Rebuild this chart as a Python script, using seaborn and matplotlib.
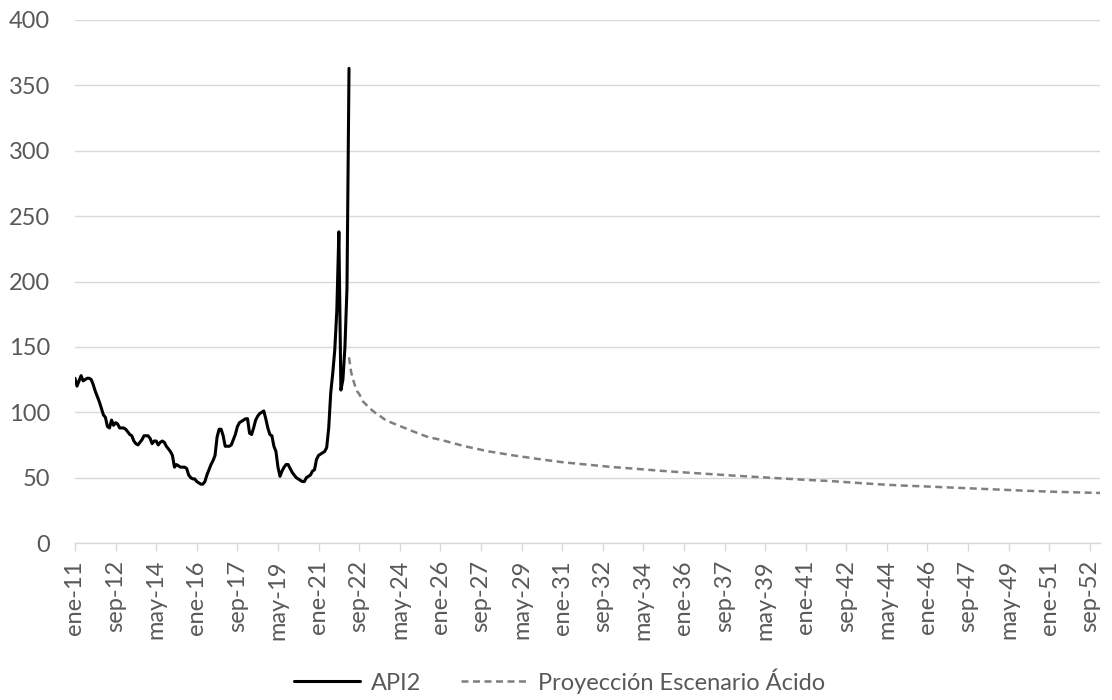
import numpy as np
import pandas as pd
import matplotlib
matplotlib.use("Agg")
import matplotlib.pyplot as plt
import seaborn as sns

# Monthly API2 coal price, January 2011 onwards (USD/t)
api2_start = "2011-01"
api2_values = [
    126, 120, 124, 128, 124, 125, 126, 126, 125, 121, 116, 112,   # 2011
    108, 103, 98, 96, 89, 88, 94, 90, 92, 91, 88, 88,              # 2012
    88, 87, 85, 83, 82, 78, 76, 75, 77, 79, 82, 82,                # 2013
    82, 80, 76, 78, 78, 75, 77, 78, 77, 74, 72, 70,                # 2014
    67, 58, 60, 59, 58, 58, 58, 57, 52, 50, 49, 49,                # 2015
    47, 46, 45, 45, 47, 52, 56, 60, 63, 67, 81, 87,                # 2016
    87, 82, 74, 74, 74, 75, 79, 83, 89, 92, 93, 94,                # 2017
    95, 95, 84, 83, 88, 94, 97, 99, 100, 101, 95, 88,              # 2018
    83, 82, 74, 70, 58, 51, 55, 58, 60, 60, 57, 54,                # 2019
    52, 50, 49, 48, 47, 47, 50, 51, 52, 55, 56, 64,                # 2020
    67, 68, 69, 70, 73, 88, 115, 130, 148, 178, 238, 117,          # 2021
    125, 150, 195, 363,                                            # 2022
]

# Acid-scenario projection
proj_dates = [
    "2022-04", "2022-05", "2022-06", "2022-07", "2022-08", "2022-09",
    "2022-11", "2023-01", "2023-03", "2023-05", "2023-07", "2023-10",
    "2024-01", "2024-05", "2024-09", "2025-01", "2025-07", "2026-01",
    "2026-07", "2027-01", "2027-07", "2028-01", "2029-01", "2030-01",
    "2031-01", "2032-01", "2033-01", "2034-01", "2035-01", "2036-01",
    "2037-01", "2038-01", "2039-01", "2040-01", "2041-01", "2042-01",
    "2043-01", "2044-01", "2045-01", "2046-01", "2047-01", "2048-01",
    "2049-01", "2050-01", "2051-01", "2052-01", "2053-01", "2053-02",
]
proj_values = [
    142, 131, 125, 120, 116, 114,
    108, 105, 102, 99.5, 97.5, 94,
    92, 89.5, 87, 84.5, 81, 79,
    76.5, 74, 72, 70, 67, 64.3,
    61.8, 60, 58.2, 56.8, 55.3, 54,
    52.8, 51.6, 50.5, 49.4, 48.3, 47.4,
    46.1, 44.9, 43.9, 43.2, 42.4, 41.6,
    40.8, 40.0, 39.3, 38.8, 38.3, 38.2,
]

tick_labels = [
    "ene-11", "sep-12", "may-14", "ene-16", "sep-17", "may-19", "ene-21",
    "sep-22", "may-24", "ene-26", "sep-27", "may-29", "ene-31", "sep-32",
    "may-34", "ene-36", "sep-37", "may-39", "ene-41", "sep-42", "may-44",
    "ene-46", "sep-47", "may-49", "ene-51", "sep-52",
]
tick_step_months = 20
y_ticks = [0, 50, 100, 150, 200, 250, 300, 350, 400]

series_names = ["API2", "Proyección Escenario Ácido"]


def month_index(period):
    """Months elapsed since the first API2 observation."""
    p = pd.Period(period, freq="M")
    base = pd.Period(api2_start, freq="M")
    return (p - base).n


api2_x = np.arange(len(api2_values))
proj_x = np.array([month_index(d) for d in proj_dates])
tick_pos = [tick_step_months * i for i in range(len(tick_labels))]

sns.set_theme(style="white")
plt.rcParams["font.family"] = ["Lato", "DejaVu Sans"]

text_color = "#595959"
grid_color = "#d9d9d9"
font_size = 17

fig = plt.figure(figsize=(11.12, 7.0), dpi=100)
ax = fig.add_axes([75 / 1112, 157 / 700, 1025 / 1112, 523 / 700])

sns.lineplot(x=api2_x, y=api2_values, ax=ax, color="black", linewidth=2.2,
             label=series_names[0], zorder=3)
sns.lineplot(x=proj_x, y=proj_values, ax=ax, color="#7f7f7f", linewidth=1.8,
             linestyle=(0, (2.8, 1.8)), label=series_names[1], zorder=2)

ax.set_xlim(0, 505)
ax.set_ylim(0, 400)
ax.set_yticks(y_ticks)
ax.set_yticklabels([str(v) for v in y_ticks])
ax.set_xticks(tick_pos)
ax.set_xticklabels(tick_labels, rotation=90)
ax.set_xlabel("")
ax.set_ylabel("")

ax.grid(axis="y", color=grid_color, linewidth=1.0)
ax.grid(axis="x", visible=False)
ax.set_axisbelow(True)
for side in ["left", "right", "top"]:
    ax.spines[side].set_visible(False)
ax.spines["bottom"].set_color(grid_color)
ax.spines["bottom"].set_linewidth(1.0)

ax.tick_params(axis="y", length=0, pad=18, labelsize=font_size, labelcolor=text_color)
ax.tick_params(axis="x", length=5.8, width=1.0, color=grid_color, pad=6.5,
               labelsize=font_size, labelcolor=text_color, bottom=True)

handles, labels = ax.get_legend_handles_labels()
ax.get_legend().remove()
leg = fig.legend(handles, labels, loc="center", bbox_to_anchor=(0.503, 19 / 700),
                 ncol=2, frameon=False, fontsize=font_size, handlelength=2.8,
                 handletextpad=0.45, columnspacing=1.7)
for t in leg.get_texts():
    t.set_color(text_color)

fig.savefig("out.png", dpi=100)
